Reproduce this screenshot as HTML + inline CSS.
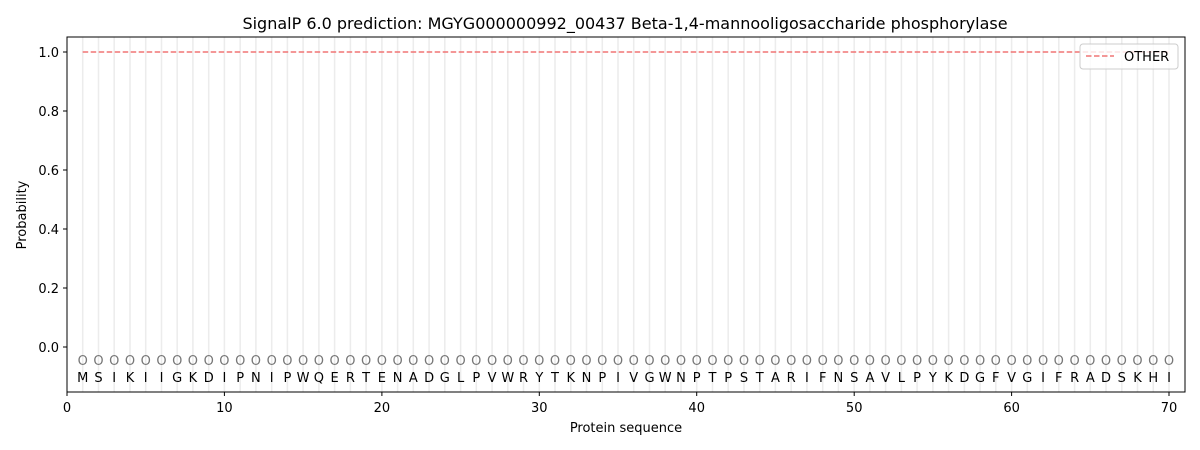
<!DOCTYPE html>
<html><head><meta charset="utf-8"><style>
body{margin:0;background:#fff;}
svg{display:block;font-family:"DejaVu Sans","Liberation Sans",sans-serif;}
</style></head><body>
<svg width="1200" height="450" viewBox="0 0 1200 450" xmlns="http://www.w3.org/2000/svg">
<rect width="1200" height="450" fill="#fff"/>
<text x="625" y="29" font-size="16" text-anchor="middle" fill="#000">SignalP 6.0 prediction: MGYG000000992_00437 Beta-1,4-mannooligosaccharide phosphorylase</text>
<g stroke="#ececec" stroke-width="1.5">
<line x1="82.7" y1="37" x2="82.7" y2="392"/><line x1="98.5" y1="37" x2="98.5" y2="392"/><line x1="114.2" y1="37" x2="114.2" y2="392"/><line x1="130" y1="37" x2="130" y2="392"/><line x1="145.7" y1="37" x2="145.7" y2="392"/><line x1="161.5" y1="37" x2="161.5" y2="392"/><line x1="177.2" y1="37" x2="177.2" y2="392"/><line x1="192.9" y1="37" x2="192.9" y2="392"/><line x1="208.7" y1="37" x2="208.7" y2="392"/><line x1="224.4" y1="37" x2="224.4" y2="392"/>
<line x1="240.2" y1="37" x2="240.2" y2="392"/><line x1="255.9" y1="37" x2="255.9" y2="392"/><line x1="271.7" y1="37" x2="271.7" y2="392"/><line x1="287.4" y1="37" x2="287.4" y2="392"/><line x1="303.1" y1="37" x2="303.1" y2="392"/><line x1="318.9" y1="37" x2="318.9" y2="392"/><line x1="334.6" y1="37" x2="334.6" y2="392"/><line x1="350.4" y1="37" x2="350.4" y2="392"/><line x1="366.1" y1="37" x2="366.1" y2="392"/><line x1="381.9" y1="37" x2="381.9" y2="392"/>
<line x1="397.6" y1="37" x2="397.6" y2="392"/><line x1="413.3" y1="37" x2="413.3" y2="392"/><line x1="429.1" y1="37" x2="429.1" y2="392"/><line x1="444.8" y1="37" x2="444.8" y2="392"/><line x1="460.6" y1="37" x2="460.6" y2="392"/><line x1="476.3" y1="37" x2="476.3" y2="392"/><line x1="492.1" y1="37" x2="492.1" y2="392"/><line x1="507.8" y1="37" x2="507.8" y2="392"/><line x1="523.5" y1="37" x2="523.5" y2="392"/><line x1="539.3" y1="37" x2="539.3" y2="392"/>
<line x1="555" y1="37" x2="555" y2="392"/><line x1="570.8" y1="37" x2="570.8" y2="392"/><line x1="586.5" y1="37" x2="586.5" y2="392"/><line x1="602.3" y1="37" x2="602.3" y2="392"/><line x1="618" y1="37" x2="618" y2="392"/><line x1="633.7" y1="37" x2="633.7" y2="392"/><line x1="649.5" y1="37" x2="649.5" y2="392"/><line x1="665.2" y1="37" x2="665.2" y2="392"/><line x1="681" y1="37" x2="681" y2="392"/><line x1="696.7" y1="37" x2="696.7" y2="392"/>
<line x1="712.5" y1="37" x2="712.5" y2="392"/><line x1="728.2" y1="37" x2="728.2" y2="392"/><line x1="744" y1="37" x2="744" y2="392"/><line x1="759.7" y1="37" x2="759.7" y2="392"/><line x1="775.4" y1="37" x2="775.4" y2="392"/><line x1="791.2" y1="37" x2="791.2" y2="392"/><line x1="806.9" y1="37" x2="806.9" y2="392"/><line x1="822.7" y1="37" x2="822.7" y2="392"/><line x1="838.4" y1="37" x2="838.4" y2="392"/><line x1="854.2" y1="37" x2="854.2" y2="392"/>
<line x1="869.9" y1="37" x2="869.9" y2="392"/><line x1="885.6" y1="37" x2="885.6" y2="392"/><line x1="901.4" y1="37" x2="901.4" y2="392"/><line x1="917.1" y1="37" x2="917.1" y2="392"/><line x1="932.9" y1="37" x2="932.9" y2="392"/><line x1="948.6" y1="37" x2="948.6" y2="392"/><line x1="964.4" y1="37" x2="964.4" y2="392"/><line x1="980.1" y1="37" x2="980.1" y2="392"/><line x1="995.8" y1="37" x2="995.8" y2="392"/><line x1="1011.6" y1="37" x2="1011.6" y2="392"/>
<line x1="1027.3" y1="37" x2="1027.3" y2="392"/><line x1="1043.1" y1="37" x2="1043.1" y2="392"/><line x1="1058.8" y1="37" x2="1058.8" y2="392"/><line x1="1074.6" y1="37" x2="1074.6" y2="392"/><line x1="1090.3" y1="37" x2="1090.3" y2="392"/><line x1="1106" y1="37" x2="1106" y2="392"/><line x1="1121.8" y1="37" x2="1121.8" y2="392"/><line x1="1137.5" y1="37" x2="1137.5" y2="392"/><line x1="1153.3" y1="37" x2="1153.3" y2="392"/><line x1="1169" y1="37" x2="1169" y2="392"/>
</g>
<line x1="82.7" y1="52" x2="1169" y2="52" stroke="#f07575" stroke-width="1.5" stroke-dasharray="5.5,2.5"/>
<text y="365" font-size="13" fill="#777" text-anchor="middle" font-family="DejaVu Sans,sans-serif"><tspan x="82.7">O</tspan><tspan x="98.5">O</tspan><tspan x="114.2">O</tspan><tspan x="130">O</tspan><tspan x="145.7">O</tspan><tspan x="161.5">O</tspan><tspan x="177.2">O</tspan><tspan x="192.9">O</tspan><tspan x="208.7">O</tspan><tspan x="224.4">O</tspan><tspan x="240.2">O</tspan><tspan x="255.9">O</tspan><tspan x="271.7">O</tspan><tspan x="287.4">O</tspan><tspan x="303.1">O</tspan><tspan x="318.9">O</tspan><tspan x="334.6">O</tspan><tspan x="350.4">O</tspan><tspan x="366.1">O</tspan><tspan x="381.9">O</tspan><tspan x="397.6">O</tspan><tspan x="413.3">O</tspan><tspan x="429.1">O</tspan><tspan x="444.8">O</tspan><tspan x="460.6">O</tspan><tspan x="476.3">O</tspan><tspan x="492.1">O</tspan><tspan x="507.8">O</tspan><tspan x="523.5">O</tspan><tspan x="539.3">O</tspan><tspan x="555">O</tspan><tspan x="570.8">O</tspan><tspan x="586.5">O</tspan><tspan x="602.3">O</tspan><tspan x="618">O</tspan><tspan x="633.7">O</tspan><tspan x="649.5">O</tspan><tspan x="665.2">O</tspan><tspan x="681">O</tspan><tspan x="696.7">O</tspan><tspan x="712.5">O</tspan><tspan x="728.2">O</tspan><tspan x="744">O</tspan><tspan x="759.7">O</tspan><tspan x="775.4">O</tspan><tspan x="791.2">O</tspan><tspan x="806.9">O</tspan><tspan x="822.7">O</tspan><tspan x="838.4">O</tspan><tspan x="854.2">O</tspan><tspan x="869.9">O</tspan><tspan x="885.6">O</tspan><tspan x="901.4">O</tspan><tspan x="917.1">O</tspan><tspan x="932.9">O</tspan><tspan x="948.6">O</tspan><tspan x="964.4">O</tspan><tspan x="980.1">O</tspan><tspan x="995.8">O</tspan><tspan x="1011.6">O</tspan><tspan x="1027.3">O</tspan><tspan x="1043.1">O</tspan><tspan x="1058.8">O</tspan><tspan x="1074.6">O</tspan><tspan x="1090.3">O</tspan><tspan x="1106">O</tspan><tspan x="1121.8">O</tspan><tspan x="1137.5">O</tspan><tspan x="1153.3">O</tspan><tspan x="1169">O</tspan></text>
<text y="382" font-size="13" fill="#000" text-anchor="middle"><tspan x="82.7">M</tspan><tspan x="98.5">S</tspan><tspan x="114.2">I</tspan><tspan x="130">K</tspan><tspan x="145.7">I</tspan><tspan x="161.5">I</tspan><tspan x="177.2">G</tspan><tspan x="192.9">K</tspan><tspan x="208.7">D</tspan><tspan x="224.4">I</tspan><tspan x="240.2">P</tspan><tspan x="255.9">N</tspan><tspan x="271.7">I</tspan><tspan x="287.4">P</tspan><tspan x="303.1">W</tspan><tspan x="318.9">Q</tspan><tspan x="334.6">E</tspan><tspan x="350.4">R</tspan><tspan x="366.1">T</tspan><tspan x="381.9">E</tspan><tspan x="397.6">N</tspan><tspan x="413.3">A</tspan><tspan x="429.1">D</tspan><tspan x="444.8">G</tspan><tspan x="460.6">L</tspan><tspan x="476.3">P</tspan><tspan x="492.1">V</tspan><tspan x="507.8">W</tspan><tspan x="523.5">R</tspan><tspan x="539.3">Y</tspan><tspan x="555">T</tspan><tspan x="570.8">K</tspan><tspan x="586.5">N</tspan><tspan x="602.3">P</tspan><tspan x="618">I</tspan><tspan x="633.7">V</tspan><tspan x="649.5">G</tspan><tspan x="665.2">W</tspan><tspan x="681">N</tspan><tspan x="696.7">P</tspan><tspan x="712.5">T</tspan><tspan x="728.2">P</tspan><tspan x="744">S</tspan><tspan x="759.7">T</tspan><tspan x="775.4">A</tspan><tspan x="791.2">R</tspan><tspan x="806.9">I</tspan><tspan x="822.7">F</tspan><tspan x="838.4">N</tspan><tspan x="854.2">S</tspan><tspan x="869.9">A</tspan><tspan x="885.6">V</tspan><tspan x="901.4">L</tspan><tspan x="917.1">P</tspan><tspan x="932.9">Y</tspan><tspan x="948.6">K</tspan><tspan x="964.4">D</tspan><tspan x="980.1">G</tspan><tspan x="995.8">F</tspan><tspan x="1011.6">V</tspan><tspan x="1027.3">G</tspan><tspan x="1043.1">I</tspan><tspan x="1058.8">F</tspan><tspan x="1074.6">R</tspan><tspan x="1090.3">A</tspan><tspan x="1106">D</tspan><tspan x="1121.8">S</tspan><tspan x="1137.5">K</tspan><tspan x="1153.3">H</tspan><tspan x="1169">I</tspan></text>
<rect x="67" y="37" width="1118" height="355" fill="none" stroke="#000" stroke-width="1"/>
<g stroke="#000" stroke-width="1">
<line x1="67" y1="392" x2="67" y2="396"/><line x1="224.4" y1="392" x2="224.4" y2="396"/><line x1="381.9" y1="392" x2="381.9" y2="396"/><line x1="539.3" y1="392" x2="539.3" y2="396"/><line x1="696.7" y1="392" x2="696.7" y2="396"/><line x1="854.2" y1="392" x2="854.2" y2="396"/><line x1="1011.6" y1="392" x2="1011.6" y2="396"/><line x1="1169" y1="392" x2="1169" y2="396"/>
<line x1="63" y1="52" x2="67" y2="52"/><line x1="63" y1="111" x2="67" y2="111"/><line x1="63" y1="170" x2="67" y2="170"/><line x1="63" y1="229" x2="67" y2="229"/><line x1="63" y1="288" x2="67" y2="288"/><line x1="63" y1="347" x2="67" y2="347"/>
</g>
<g font-size="13" fill="#000" text-anchor="middle">
<text x="67" y="412">0</text><text x="224.4" y="412">10</text><text x="381.9" y="412">20</text><text x="539.3" y="412">30</text><text x="696.7" y="412">40</text><text x="854.2" y="412">50</text><text x="1011.6" y="412">60</text><text x="1169" y="412">70</text>
<text x="626" y="432">Protein sequence</text>
</g>
<g font-size="13" fill="#000" text-anchor="end">
<text x="59" y="57">1.0</text><text x="59" y="116">0.8</text><text x="59" y="175">0.6</text><text x="59" y="234">0.4</text><text x="59" y="293">0.2</text><text x="59" y="352">0.0</text>
</g>
<text x="26" y="215" font-size="13" text-anchor="middle" transform="rotate(-90 26 215)">Probability</text>
<rect x="1080" y="44" width="98" height="25" rx="3" fill="#fff" fill-opacity="0.8" stroke="#ccc"/>
<line x1="1086" y1="56" x2="1114" y2="56" stroke="#f07575" stroke-width="1.5" stroke-dasharray="5.5,2.5"/>
<text x="1124" y="61" font-size="13" fill="#000">OTHER</text>
</svg>
</body></html>
